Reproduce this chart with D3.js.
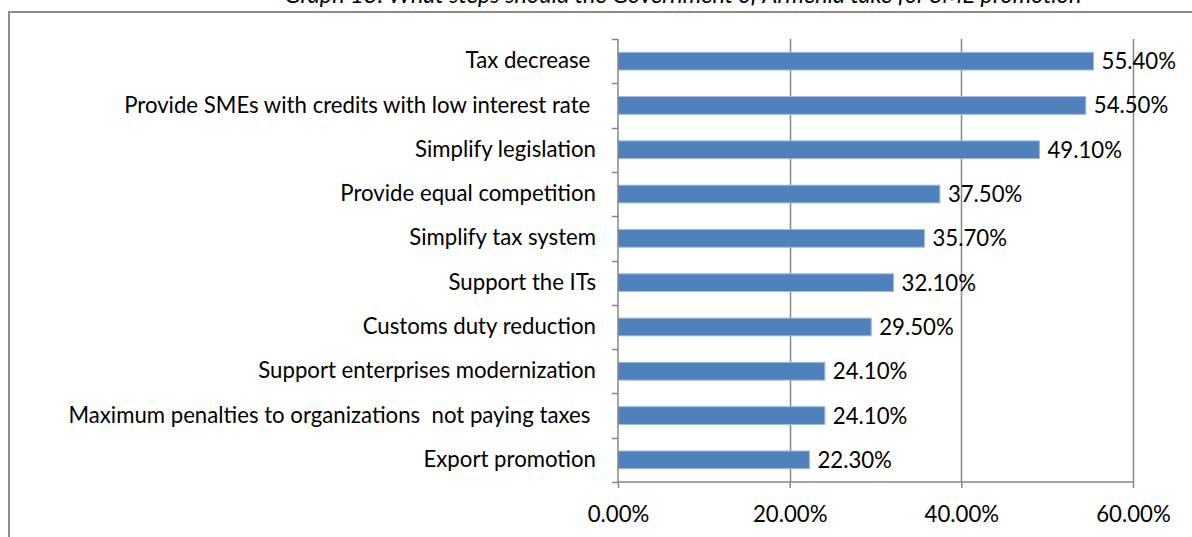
<!DOCTYPE html>
<html>
<head>
<meta charset="utf-8">
<script src="https://cdn.jsdelivr.net/npm/d3@7"></script>
<style>
  html, body { margin: 0; padding: 0; background: #fff; }
  svg { display: block; }
</style>
</head>
<body>
<svg id="chart" width="1192" height="537"></svg>
<script>
// Survey answers: share of respondents naming each step
const categories = [
  "Tax decrease ",
  "Provide SMEs with credits with low interest rate ",
  "Simplify legislation",
  "Provide equal competition",
  "Simplify tax system",
  "Support the ITs",
  "Customs duty reduction",
  "Support enterprises modernization",
  "Maximum penalties to organizations  not paying taxes ",
  "Export promotion"
];
const values = [55.4, 54.5, 49.1, 37.5, 35.7, 32.1, 29.5, 24.1, 24.1, 22.3];
const xTicks = [0, 20, 40, 60];
const titleText = "Graph 13: What steps should the Government of Armenia take for SME promotion";

const W = 1192, H = 537;
const plot = { left: 618, right: 1133, top: 39, bottom: 482 };
const font = "Lato, 'Open Sans', sans-serif";
const fontSize = 22.2;
const axisColor = "#868686";

const svg = d3.select("#chart");

// Title (sits above the chart frame, running off the top)
svg.append("text")
  .attr("x", 683).attr("y", 3)
  .attr("text-anchor", "middle")
  .attr("font-family", font)
  .attr("font-style", "italic")
  .attr("font-size", 23.5)
  .attr("fill", "#000")
  .text(titleText);

// Chart frame (only its top and left edges fall inside the page)
svg.append("path")
  .attr("d", `M9,${H}V12H${W}`)
  .attr("fill", "none")
  .attr("stroke", "#8c8c8c")
  .attr("stroke-width", 2);

const x = d3.scaleLinear().domain([0, 60]).range([plot.left, plot.right]);
const y = d3.scaleBand().domain(categories).range([plot.top, plot.bottom])
  .paddingInner(0.6).paddingOuter(0.3);

// Vertical gridlines
svg.append("g").selectAll("line")
  .data(xTicks.filter(d => d > 0))
  .join("line")
  .attr("x1", d => Math.round(x(d)) + 0.5).attr("x2", d => Math.round(x(d)) + 0.5)
  .attr("y1", plot.top).attr("y2", plot.bottom)
  .attr("stroke", axisColor).attr("stroke-width", 1.5);

// Bars
svg.append("g").selectAll("rect")
  .data(categories)
  .join("rect")
  .attr("x", x(0))
  .attr("y", d => y(d))
  .attr("width", (d, i) => x(values[i]) - x(0))
  .attr("height", y.bandwidth())
  .attr("fill", "#4F81BD")
  .attr("stroke", "#9DB9DE")
  .attr("stroke-width", 1);

// Value labels
svg.append("g").selectAll("text")
  .data(categories)
  .join("text")
  .attr("x", (d, i) => x(values[i]) + 8)
  .attr("y", d => y(d) + y.bandwidth() / 2)
  .attr("dy", "0.36em")
  .attr("font-family", font)
  .attr("font-size", fontSize)
  .attr("fill", "#000")
  .text((d, i) => values[i].toFixed(2) + "%");

// Category axis
const yAxis = d3.axisLeft(y).tickSize(0).tickPadding(22);
const gy = svg.append("g").attr("transform", `translate(${plot.left},0)`).call(yAxis);
gy.select(".domain").remove();
gy.selectAll("text")
  .attr("font-family", font).attr("font-size", fontSize).attr("fill", "#000")
  .style("white-space", "pre").attr("xml:space", "preserve");

// Category boundary ticks
const bounds = d3.range(categories.length + 1).map(i => plot.top + i * (plot.bottom - plot.top) / categories.length);
svg.append("g").selectAll("line")
  .data(bounds)
  .join("line")
  .attr("x1", plot.left - 6).attr("x2", plot.left)
  .attr("y1", d => Math.round(d) + 0.5).attr("y2", d => Math.round(d) + 0.5)
  .attr("stroke", axisColor).attr("stroke-width", 1.5);
svg.append("line")
  .attr("x1", plot.left).attr("x2", plot.left)
  .attr("y1", plot.top).attr("y2", plot.bottom)
  .attr("stroke", axisColor).attr("stroke-width", 1.5);

// Value axis
const xAxis = d3.axisBottom(x).tickValues(xTicks).tickSize(6).tickPadding(18)
  .tickFormat(d => d.toFixed(2) + "%");
const gx = svg.append("g").attr("transform", `translate(0,${plot.bottom})`).call(xAxis);
gx.select(".domain").attr("stroke", axisColor).attr("stroke-width", 1.5)
  .attr("d", `M${plot.left},0H${plot.right}`);
gx.selectAll(".tick line").attr("stroke", axisColor).attr("stroke-width", 1.5);
gx.selectAll("text").attr("font-family", font).attr("font-size", fontSize).attr("fill", "#000");
</script>
</body>
</html>
